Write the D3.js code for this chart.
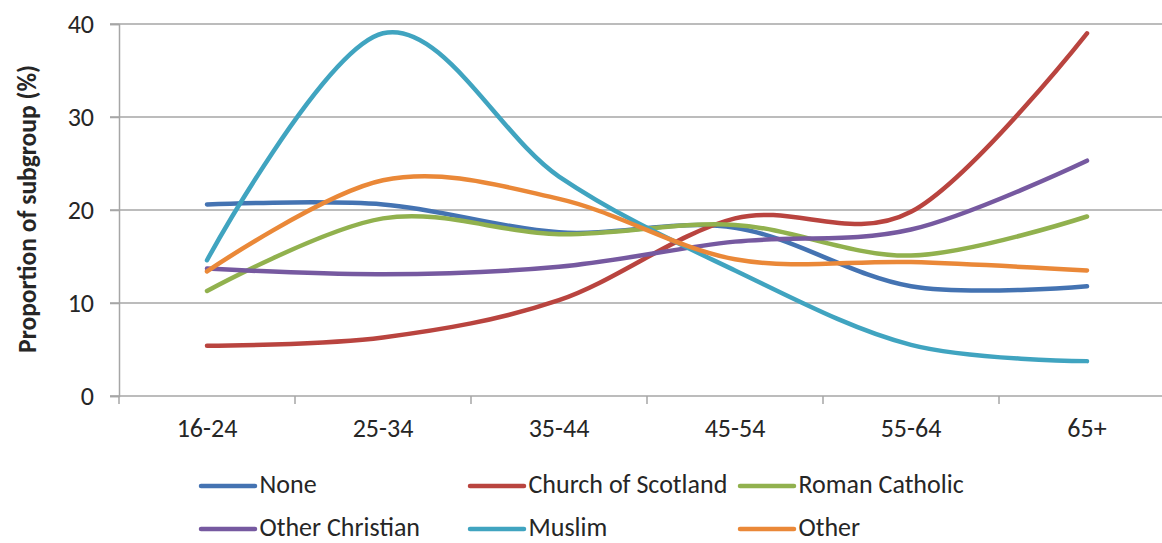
<!DOCTYPE html>
<html>
<head>
<meta charset="utf-8">
<script src="https://cdn.jsdelivr.net/npm/d3@7"></script>
<style>
  html, body { margin: 0; padding: 0; background: #fff; }
  svg { display: block; }
  text { font-family: Carlito, Calibri, Lato, "Open Sans", sans-serif; fill: #262626; }
</style>
</head>
<body>
<svg id="chart" width="1162" height="543"></svg>
<script>
// Age bands along the x axis
const categories = ["16-24", "25-34", "35-44", "45-54", "55-64", "65+"];

// Share of each religious subgroup in each age band (%)
const seriesNames = ["None", "Church of Scotland", "Roman Catholic", "Other Christian", "Muslim", "Other"];
const noneValues            = [20.6, 20.6, 17.6, 18.1, 11.8, 11.8];
const churchOfScotland      = [5.4, 6.3, 10.3, 19.1, 19.8, 39.0];
const romanCatholic         = [11.3, 19.1, 17.4, 18.4, 15.1, 19.3];
const otherChristian        = [13.7, 13.1, 13.9, 16.6, 17.9, 25.3];
const muslimValues          = [14.6, 39.0, 23.6, 13.5, 5.5, 3.75];
const otherValues           = [13.4, 23.2, 21.2, 14.7, 14.4, 13.5];

const yTicks = [0, 10, 20, 30, 40];
const yTitle = "Proportion of subgroup (%)";

const colors = ["#4473B2", "#B9443F", "#91B14E", "#7659A0", "#40A4C0", "#EA8838"];

const seriesValues = [noneValues, churchOfScotland, romanCatholic, otherChristian, muslimValues, otherValues];
const series = seriesNames.map((name, i) => ({ name, values: seriesValues[i], color: colors[i] }));

const svg = d3.select("#chart");

const plot = { left: 119, top: 24, bottom: 396, bandWidth: 176 };

const x = d3.scaleBand()
  .domain(categories)
  .range([plot.left, plot.left + plot.bandWidth * categories.length])
  .padding(0);

const y = d3.scaleLinear().domain([0, 40]).range([plot.bottom, plot.top]);

const gridColor = "#a6a6a6";
const labelSize = "26px";

// Horizontal gridlines, extending left to form the y tick marks
svg.append("g")
  .selectAll("line")
  .data(yTicks)
  .join("line")
  .attr("x1", plot.left - 9)
  .attr("x2", x.range()[1])
  .attr("y1", d => y(d))
  .attr("y2", d => y(d))
  .attr("stroke", gridColor)
  .attr("stroke-width", 1.5);

// Y axis
const yAxis = svg.append("g")
  .attr("transform", `translate(${plot.left},0)`)
  .call(d3.axisLeft(y).tickValues(yTicks).tickSize(9).tickPadding(16).tickFormat(d3.format("d")));
yAxis.select(".domain").attr("stroke", gridColor).attr("stroke-width", 1.5);
yAxis.selectAll(".tick line").attr("stroke", gridColor).attr("stroke-width", 1.5);
yAxis.selectAll(".tick text")
  .style("font-size", labelSize)
  .attr("dy", "0.32em")
  .attr("fill", "#262626");

// X axis with tick marks on the band boundaries
const xAxis = svg.append("g")
  .attr("transform", `translate(0,${plot.bottom})`)
  .call(d3.axisBottom(x).tickSize(0));
xAxis.select(".domain").remove();
xAxis.selectAll(".tick text")
  .style("font-size", labelSize)
  .attr("y", 41)
  .attr("dy", 0)
  .attr("fill", "#262626");

const boundaries = categories.map(c => x(c)).concat([x.range()[1]]);
svg.append("g")
  .selectAll("line")
  .data(boundaries)
  .join("line")
  .attr("x1", d => d).attr("x2", d => d)
  .attr("y1", plot.bottom).attr("y2", plot.bottom + 8)
  .attr("stroke", gridColor)
  .attr("stroke-width", 1.5);

// Y axis title
svg.append("text")
  .attr("transform", "translate(36,209) rotate(-90)")
  .attr("text-anchor", "middle")
  .style("font-size", "25.5px")
  .style("font-weight", "bold")
  .attr("fill", "#000")
  .text(yTitle);

// Smoothed series lines
const line = d3.line()
  .x((d, i) => x(categories[i]) + x.bandwidth() / 2)
  .y(d => y(d))
  .curve(d3.curveCardinal.tension(0));

svg.append("g")
  .selectAll("path")
  .data(series)
  .join("path")
  .attr("d", d => line(d.values))
  .attr("fill", "none")
  .attr("stroke", d => d.color)
  .attr("stroke-width", 4.5)
  .attr("stroke-linecap", "round")
  .attr("stroke-linejoin", "round");

// Legend: three columns, two rows
const legendCols = [201, 470, 740];
const legendRows = [485, 528];
const legend = svg.append("g")
  .selectAll("g")
  .data(series)
  .join("g")
  .attr("transform", (d, i) => `translate(${legendCols[i % 3]},${legendRows[Math.floor(i / 3)]})`);

legend.append("line")
  .attr("x1", 0).attr("x2", 54)
  .attr("y1", 1).attr("y2", 1)
  .attr("stroke", d => d.color)
  .attr("stroke-width", 4.5)
  .attr("stroke-linecap", "round");

legend.append("text")
  .attr("x", 58.5)
  .attr("dy", "0.32em")
  .style("font-size", labelSize)
  .attr("fill", "#262626")
  .text(d => d.name);
</script>
</body>
</html>
